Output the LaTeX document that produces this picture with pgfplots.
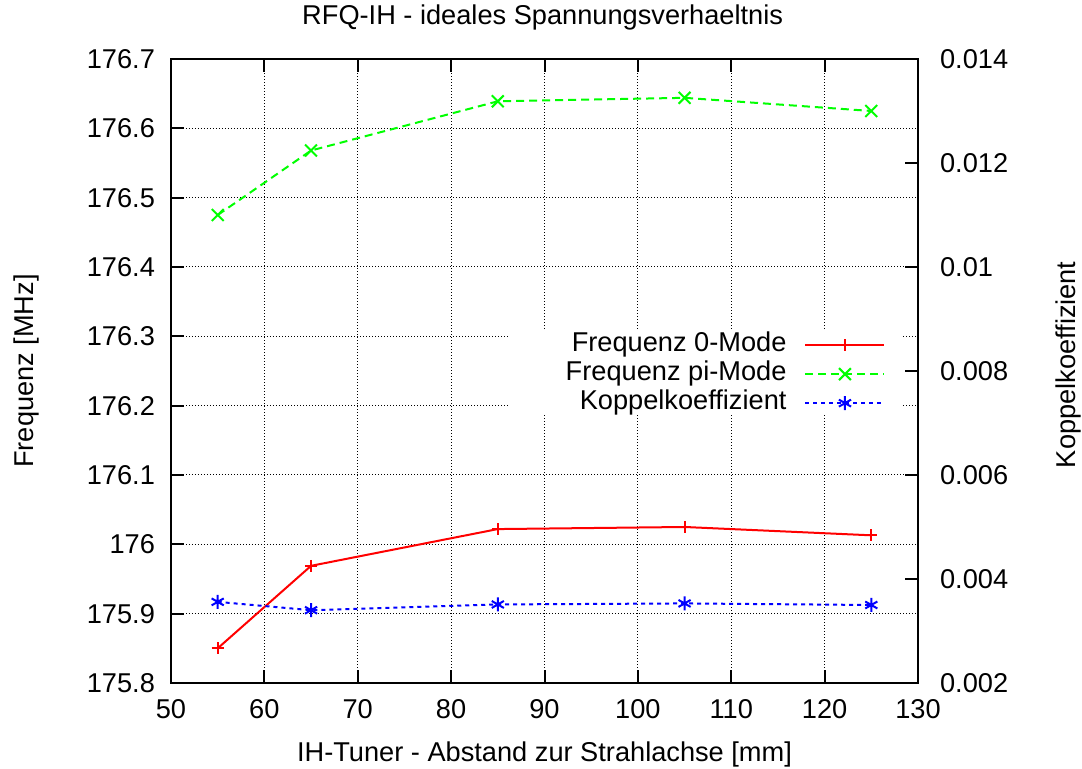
\documentclass[border=0pt]{standalone}
\usepackage{pgfplots}
\pgfplotsset{compat=1.18}
\usepackage{fontspec}
\setmainfont{Liberation Sans}

% measured frequencies and coupling factor
\pgfplotstableread{
x     f0       fpi
55    175.850  176.475
65    175.969  176.568
85    176.022  176.639
105   176.025  176.644
125   176.013  176.625
}\freqdata
\pgfplotstableread{
x     k
55    0.00356
65    0.00340
85    0.00351
105   0.00353
125   0.00350
}\koppeldata

\newcommand{\lblfont}{\fontsize{13.6}{16}\selectfont}

\begin{document}
\begin{tikzpicture}
\pgfplotsset{
  common/.style={
    scale only axis, width=373.5pt, height=312pt,
    at={(0pt,0pt)}, anchor=south west,
    xmin=50, xmax=130,
    font=\lblfont,
    tick label style={font=\lblfont},
    /pgf/number format/assume math mode=true,
    axis line style={line width=1.1pt, black},
    major tick length=6.5pt,
    tick style={line width=1pt, black},
    tick align=inside,
    scaled y ticks=false,
  },
}
\begin{axis}[
  common,
  ymin=175.8, ymax=176.7,
  xtick={50,60,70,80,90,100,110,120,130},
  xticklabels={50,60,70,80,90,100,110,120,130},
  ytick={175.8,175.9,176,176.1,176.2,176.3,176.4,176.5,176.6,176.7},
  yticklabels={175.8,175.9,176,176.1,176.2,176.3,176.4,176.5,176.6,176.7},
  xtick pos=both, ytick pos=left,
  xticklabel style={yshift=-4.5pt},
  yticklabel style={xshift=-4.5pt},
  grid=major,
  major grid style={black, line width=0.5pt, dash pattern=on 0.5pt off 1pt},
  title={RFQ-IH - ideales Spannungsverhaeltnis},
  every axis title shift=0pt,
  every axis title/.style={at={(0.4975,1.0545)}, anchor=base},
  xlabel={IH-Tuner - Abstand zur Strahlachse [mm]},
  every axis x label/.style={at={(0.5,-0.1261)}, anchor=base},
  ylabel={Frequenz [MHz]},
  every axis y label/.style={at={(-0.1843,0.5)}, rotate=90, anchor=base},
  legend plot pos=right,
  legend cell align=right,
  legend image code/.code={\draw[mark repeat=2,mark phase=2] plot coordinates {(0pt,0pt) (19.75pt,0pt) (39.5pt,0pt)};},
  legend style={draw=none, fill=none, inner sep=0pt, at={(0.957,0.495)}, anchor=east,
    font=\lblfont, column sep=8.5pt, row sep=0pt,
    nodes={inner sep=0.5pt, text height=10pt, text depth=3.5pt}},
]
\fill[white] (rel axis cs:0.4538,0.4327) rectangle (rel axis cs:0.9786,0.5673);
\addplot[red, line width=1pt, mark=+, mark size=3pt, mark options={solid}]
  table[x=x, y=f0] {\freqdata};
\addlegendentry{Frequenz 0-Mode}
\addplot[green, line width=1pt, dash pattern=on 4pt off 2.5pt, mark=x, mark size=4.2pt, mark options={solid}]
  table[x=x, y=fpi] {\freqdata};
\addlegendentry{Frequenz pi-Mode}
\addlegendimage{blue, line width=1pt, dash pattern=on 2pt off 2pt, mark=asterisk, mark size=3.5pt, mark options={solid}}
\addlegendentry{Koppelkoeffizient}
\end{axis}

\begin{axis}[
  common,
  ymin=0.002, ymax=0.014,
  axis y line*=right, axis x line=none,
  ytick={0.002,0.004,0.006,0.008,0.01,0.012,0.014},
  yticklabels={0.002,0.004,0.006,0.008,0.01,0.012,0.014},
  yticklabel style={xshift=7.5pt},
  ylabel={Koppelkoeffizient},
  every axis y label/.style={at={(1.2102,0.51)}, rotate=90, anchor=base},
]
\addplot[blue, line width=1pt, dash pattern=on 2pt off 2pt, mark=asterisk, mark size=3.5pt, mark options={solid}]
  table[x=x, y=k] {\koppeldata};
\end{axis}

\pgfresetboundingbox
\path[use as bounding box] (-85.5pt,-43pt) rectangle (455.5pt,341.5pt);
\end{tikzpicture}
\end{document}
